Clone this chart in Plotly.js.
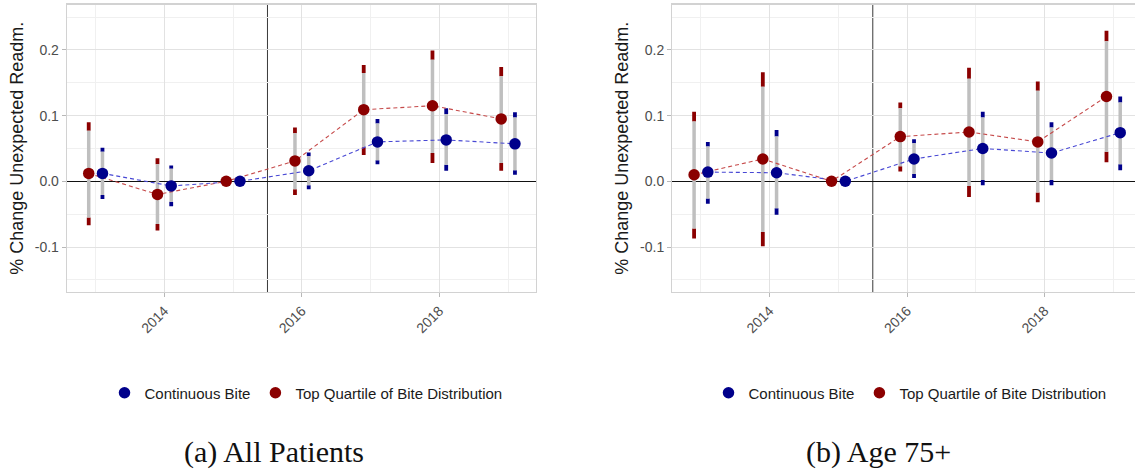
<!DOCTYPE html>
<html>
<head>
<meta charset="utf-8">
<script src="https://cdn.plot.ly/plotly-3.0.1.min.js"></script>
<style>
  html, body { margin: 0; padding: 0; background: #ffffff; }
  #chart { width: 1135px; height: 471px; }
</style>
</head>
<body>
<div id="chart"></div>
<script>
// Event-study estimates by year (2015 is the reference year, fixed at 0)
const years = [2013, 2014, 2015, 2016, 2017, 2018, 2019];
const policyCut = 2015.5;

// Panel (a): all patients
const contAll      = [0.012, -0.007, 0, 0.016, 0.060, 0.063, 0.057];
const contAllLo95  = [-0.027, -0.038, null, -0.012, 0.026, 0.016, 0.010];
const contAllHi95  = [0.051, 0.024, null, 0.044, 0.095, 0.111, 0.105];
const contAllLo90  = [-0.021, -0.031, null, -0.006, 0.032, 0.025, 0.017];
const contAllHi90  = [0.045, 0.019, null, 0.038, 0.088, 0.102, 0.097];

const topAll       = [0.012, -0.020, 0, 0.031, 0.109, 0.115, 0.095];
const topAllLo95   = [-0.067, -0.075, null, -0.021, 0.040, 0.028, 0.016];
const topAllHi95   = [0.090, 0.035, null, 0.082, 0.177, 0.199, 0.174];
const topAllLo90   = [-0.055, -0.065, null, -0.012, 0.052, 0.043, 0.028];
const topAllHi90   = [0.077, 0.026, null, 0.073, 0.165, 0.185, 0.160];

// Panel (b): age 75+
const cont75       = [0.014, 0.013, 0, 0.034, 0.050, 0.043, 0.074];
const cont75Lo95   = [-0.034, -0.051, null, 0.005, -0.006, -0.006, 0.017];
const cont75Hi95   = [0.060, 0.078, null, 0.064, 0.106, 0.090, 0.129];
const cont75Lo90   = [-0.026, -0.041, null, 0.011, 0.002, 0.002, 0.026];
const cont75Hi90   = [0.053, 0.068, null, 0.058, 0.097, 0.082, 0.120];

const top75        = [0.010, 0.034, 0, 0.068, 0.075, 0.060, 0.129];
const top75Lo95    = [-0.087, -0.099, null, 0.015, -0.024, -0.032, 0.029];
const top75Hi95    = [0.106, 0.166, null, 0.120, 0.173, 0.152, 0.229];
const top75Lo90    = [-0.072, -0.077, null, 0.023, -0.007, -0.017, 0.045];
const top75Hi90    = [0.091, 0.144, null, 0.111, 0.156, 0.138, 0.213];

const seriesNames = ['Continuous Bite', 'Top Quartile of Bite Distribution'];
const xTickVals = [2014, 2016, 2018];
const xTickText = ['2014', '2016', '2018'];
const xMinorVals = [2013, 2015, 2017, 2019];
const yTickVals = [-0.1, 0, 0.1, 0.2];
const yTickText = ['-0.1', '0.0', '0.1', '0.2'];
const yMinorVals = [-0.15, -0.05, 0.05, 0.15, 0.25];
const captions = ['(a) All Patients', '(b) Age 75+'];

// styling
const DODGE = 0.1;
const BLUE = '#00008b', RED = '#8b0000';
const BLUE_LINE = '#4848d4', RED_LINE = '#c64a4a';
const GREY_BAR = '#bfbfbf';
const FONT = 'Liberation Sans, Arial, sans-serif';

function shift(arr, d) { return arr.map(v => v + d); }

// vertical segments joined into one path, separated by gaps
function segments(xs, lo, hi) {
  const x = [], y = [];
  xs.forEach((xv, i) => {
    if (lo[i] === null || hi[i] === null) return;
    x.push(xv, xv, null);
    y.push(lo[i], hi[i], null);
  });
  return { x, y };
}

function panelTraces(cont, cLo95, cHi95, cLo90, cHi90, top, tLo95, tHi95, tLo90, tHi90, xa, ya, legendId) {
  const xr = shift(years, -DODGE);
  const xb = shift(years, DODGE);
  const out = [];
  const bar = (xs, lo, hi, color, w) => {
    const s = segments(xs, lo, hi);
    return { type: 'scatter', mode: 'lines', x: s.x, y: s.y, xaxis: xa, yaxis: ya,
             line: { color: color, width: w }, hoverinfo: 'skip', showlegend: false, legend: legendId };
  };
  // 95% interval tails in the series colour, 90% interval in grey
  out.push(bar(xr, tLo95, tLo90, RED, 3.8));
  out.push(bar(xr, tHi90, tHi95, RED, 3.8));
  out.push(bar(xr, tLo90, tHi90, GREY_BAR, 3.5));
  out.push(bar(xb, cLo95, cLo90, BLUE, 3.8));
  out.push(bar(xb, cHi90, cHi95, BLUE, 3.8));
  out.push(bar(xb, cLo90, cHi90, GREY_BAR, 3.5));
  out.push({ type: 'scatter', mode: 'lines', x: xr, y: top, xaxis: xa, yaxis: ya,
             line: { color: RED_LINE, width: 1.1, dash: '4px,3px' }, showlegend: false, legend: legendId, hoverinfo: 'skip' });
  out.push({ type: 'scatter', mode: 'lines', x: xb, y: cont, xaxis: xa, yaxis: ya,
             line: { color: BLUE_LINE, width: 1.1, dash: '4px,3px' }, showlegend: false, legend: legendId, hoverinfo: 'skip' });
  out.push({ type: 'scatter', mode: 'markers', name: seriesNames[0], x: xb, y: cont, xaxis: xa, yaxis: ya,
             marker: { color: BLUE, size: 11.5 }, legend: legendId, showlegend: true });
  out.push({ type: 'scatter', mode: 'markers', name: seriesNames[1], x: xr, y: top, xaxis: xa, yaxis: ya,
             marker: { color: RED, size: 11.5 }, legend: legendId, showlegend: true });
  return out;
}

const traces = []
  .concat(panelTraces(contAll, contAllLo95, contAllHi95, contAllLo90, contAllHi90,
                      topAll, topAllLo95, topAllHi95, topAllLo90, topAllHi90, 'x', 'y', 'legend'))
  .concat(panelTraces(cont75, cont75Lo95, cont75Hi95, cont75Lo90, cont75Hi90,
                      top75, top75Lo95, top75Hi95, top75Lo90, top75Hi90, 'x2', 'y2', 'legend2'));

function xAxis(domain, range, anchor) {
  return {
    domain: domain, range: range, anchor: anchor,
    tickmode: 'array', tickvals: xTickVals, ticktext: xTickText, tickangle: -45,
    tickfont: { family: FONT, size: 14, color: '#4d4d4d' },
    ticks: 'outside', ticklen: 4, tickcolor: '#b8b8b8', tickwidth: 1,
    showgrid: true, gridcolor: '#e2e2e2', gridwidth: 1,
    minor: { tickmode: 'array', tickvals: xMinorVals, showgrid: true, gridcolor: '#f0f0f0', gridwidth: 1, ticks: '' },
    showline: true, mirror: true, linecolor: '#d2d2d2', linewidth: 1.3,
    zeroline: false, fixedrange: true
  };
}
function yAxis(domain, anchor, mirror) {
  return {
    domain: domain, range: [-0.1685, 0.2691], anchor: anchor,
    tickmode: 'array', tickvals: yTickVals, ticktext: yTickText,
    tickfont: { family: FONT, size: 14, color: '#4d4d4d' },
    ticks: 'outside', ticklen: 4, tickcolor: '#b8b8b8', tickwidth: 1,
    showgrid: true, gridcolor: '#e2e2e2', gridwidth: 1,
    minor: { tickmode: 'array', tickvals: yMinorVals, showgrid: true, gridcolor: '#f0f0f0', gridwidth: 1, ticks: '' },
    showline: true, mirror: mirror, linecolor: '#d2d2d2', linewidth: 1.3,
    zeroline: true, zerolinecolor: '#111111', zerolinewidth: 1,
    title: { text: '% Change Unexpected Readm.', font: { family: FONT, size: 18, color: '#1a1a1a' }, standoff: 6 },
    fixedrange: true
  };
}

const yDomain = [1 - 292 / 471, 1 - 4.5 / 471];

const legendBase = {
  orientation: 'h', xref: 'paper', yref: 'paper', xanchor: 'center', yanchor: 'middle',
  y: 1 - 393 / 471, font: { family: FONT, size: 15, color: '#1a1a1a' },
  bgcolor: 'rgba(0,0,0,0)', itemwidth: 30, traceorder: 'normal'
};

const layout = {
  width: 1135, height: 471,
  margin: { l: 0, r: 0, t: 0, b: 0 },
  paper_bgcolor: '#ffffff', plot_bgcolor: '#ffffff',
  font: { family: FONT },
  showlegend: true,
  xaxis: xAxis([67 / 1135, 536 / 1135], [2012.584, 2019.406], 'y'),
  yaxis: yAxis(yDomain, 'x', true),
  xaxis2: xAxis([672.3 / 1135, 1], [2012.583, 2019.315], 'y2'),
  yaxis2: yAxis(yDomain, 'x2', false),
  legend: Object.assign({}, legendBase, { x: 306 / 1135 }),
  legend2: Object.assign({}, legendBase, { x: 910 / 1135 }),
  shapes: ['x', 'x2'].map(xr => ({
    type: 'line', xref: xr, yref: (xr === 'x' ? 'y' : 'y2') + ' domain',
    x0: policyCut, x1: policyCut, y0: 0, y1: 1,
    line: { color: '#3a3a3a', width: 1 }, layer: 'below'
  })),
  annotations: captions.map((t, i) => ({
    text: t, xref: 'paper', yref: 'paper',
    x: i === 0 ? 273.5 / 1135 : 878.5 / 1135, y: 1 - 452 / 471,
    xanchor: 'center', yanchor: 'middle', showarrow: false,
    font: { family: 'Liberation Serif, Times New Roman, serif', size: 30, color: '#111111' }
  }))
};

Plotly.newPlot('chart', traces, layout, { displayModeBar: false, staticPlot: true });
</script>
</body>
</html>
